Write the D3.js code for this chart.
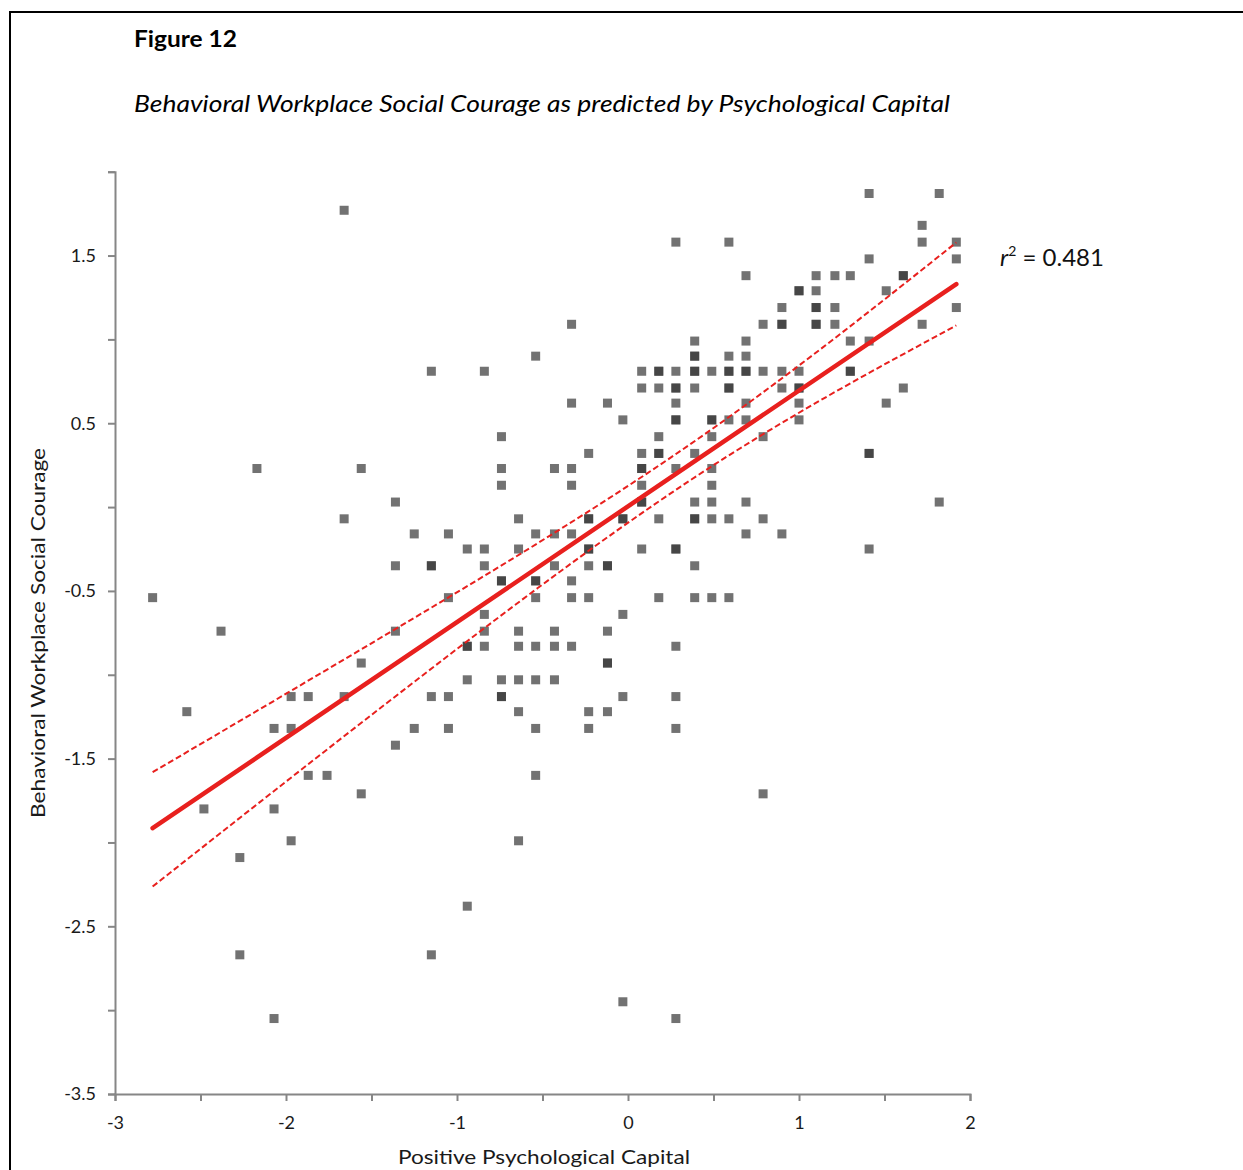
<!DOCTYPE html>
<html>
<head>
<meta charset="utf-8">
<script src="https://cdn.jsdelivr.net/npm/d3@7/dist/d3.min.js"></script>
<style>
  html, body { margin: 0; padding: 0; background: #fff; }
  svg { display: block; }
</style>
</head>
<body>
<svg id="chart" width="1243" height="1170"></svg>
<script>
// Observations: Positive Psychological Capital (x) vs Behavioral Workplace Social Courage (y)
const psyCap = [
  -1.66,-2.17,-1.56,
  0.28,-0.33,-0.54,-1.15,-0.84,0.08,0.18,0.18,0.28,0.08,0.18,0.28,0.28,-0.33,-0.12,0.28,-0.03,0.28,0.28,
  -0.74,0.18,-0.23,0.08,0.18,0.18,-0.74,-0.43,-0.33,0.08,0.08,0.28,
  1.41,1.82,1.72,0.59,1.72,1.92,1.41,1.92,0.69,1.10,1.21,1.30,1.61,1.61,1.00,1.00,1.10,1.51,
  0.90,1.10,1.10,1.21,1.92,0.79,0.90,0.90,1.10,1.10,1.21,1.72,0.39,0.69,1.30,1.41,
  0.39,0.39,0.59,0.69,0.39,0.39,0.49,0.59,0.59,0.69,0.69,0.79,0.90,1.00,1.30,1.30,
  0.39,0.59,0.59,0.90,1.00,1.00,1.61,0.69,1.00,1.51,0.49,0.49,0.59,0.69,1.00,0.49,0.79,
  0.39,1.41,1.41,0.49,
  -1.36,-1.66,-1.36,-2.78,-2.38,-1.36,-1.56,-1.97,-1.87,-1.66,-2.58,-2.07,-1.97,-1.36,-1.87,-1.76,
  -0.74,-0.33,0.08,0.08,0.08,-0.64,-0.23,-0.23,-0.03,-0.03,0.18,
  -1.25,-1.05,-0.54,-0.43,-0.33,-0.94,-0.84,-0.64,-0.23,-0.23,0.08,0.28,0.28,
  -1.15,-1.15,-0.84,-0.43,-0.23,-0.12,-0.12,-0.74,-0.74,-0.54,-0.54,-0.33,
  -1.05,-0.54,-0.33,-0.23,0.18,-0.84,-0.03,-0.84,-0.64,-0.43,-0.12,
  -0.94,-0.94,-0.84,-0.64,-0.54,-0.43,-0.33,0.28,-0.12,-0.12,
  -0.94,-0.74,-0.64,-0.54,-0.43,-1.15,-1.05,-0.74,-0.74,-0.03,0.28,
  -0.64,-0.23,-0.12,-1.25,-1.05,-0.54,-0.23,0.28,-0.54,
  0.49,0.39,0.49,0.69,1.82,0.39,0.39,0.49,0.59,0.79,0.69,0.90,1.41,0.39,0.39,0.49,0.59,
  -1.56,-2.48,-2.07,-1.97,-2.27,-2.27,-2.07,-0.64,-0.94,-1.15,-0.03,0.28,0.79
];
const courage = [
  1.77,0.23,0.23,
  1.58,1.09,0.90,0.81,0.81,0.81,0.81,0.81,0.81,0.71,0.71,0.71,0.71,0.62,0.62,0.62,0.52,0.52,0.52,
  0.42,0.42,0.32,0.32,0.32,0.32,0.23,0.23,0.23,0.23,0.23,0.23,
  1.87,1.87,1.68,1.58,1.58,1.58,1.48,1.48,1.38,1.38,1.38,1.38,1.38,1.38,1.29,1.29,1.29,1.29,
  1.19,1.19,1.19,1.19,1.19,1.09,1.09,1.09,1.09,1.09,1.09,1.09,0.99,0.99,0.99,0.99,
  0.90,0.90,0.90,0.90,0.81,0.81,0.81,0.81,0.81,0.81,0.81,0.81,0.81,0.81,0.81,0.81,
  0.71,0.71,0.71,0.71,0.71,0.71,0.71,0.62,0.62,0.62,0.52,0.52,0.52,0.52,0.52,0.42,0.42,
  0.32,0.32,0.32,0.23,
  0.03,-0.07,-0.35,-0.54,-0.74,-0.74,-0.93,-1.13,-1.13,-1.13,-1.22,-1.32,-1.32,-1.42,-1.60,-1.60,
  0.13,0.13,0.13,0.03,0.03,-0.07,-0.07,-0.07,-0.07,-0.07,-0.07,
  -0.16,-0.16,-0.16,-0.16,-0.16,-0.25,-0.25,-0.25,-0.25,-0.25,-0.25,-0.25,-0.25,
  -0.35,-0.35,-0.35,-0.35,-0.35,-0.35,-0.35,-0.44,-0.44,-0.44,-0.44,-0.44,
  -0.54,-0.54,-0.54,-0.54,-0.54,-0.64,-0.64,-0.74,-0.74,-0.74,-0.74,
  -0.83,-0.83,-0.83,-0.83,-0.83,-0.83,-0.83,-0.83,-0.93,-0.93,
  -1.03,-1.03,-1.03,-1.03,-1.03,-1.13,-1.13,-1.13,-1.13,-1.13,-1.13,
  -1.22,-1.22,-1.22,-1.32,-1.32,-1.32,-1.32,-1.32,-1.60,
  0.13,0.03,0.03,0.03,0.03,-0.07,-0.07,-0.07,-0.07,-0.07,-0.16,-0.16,-0.25,-0.35,-0.54,-0.54,-0.54,
  -1.71,-1.80,-1.80,-1.99,-2.09,-2.67,-3.05,-1.99,-2.38,-2.67,-2.95,-3.05,-1.71
];

// Fitted regression line (end points) and its confidence band
const fitX = [-2.78, 1.92];
const fitY = [-1.915, 1.33];
const bandX = [-2.78, -1.335, 0.36, 1.92];
const bandUpper = [-1.581, -0.712, 0.372, 1.578];
const bandLower = [-2.263, -1.109, 0.157, 1.083];

const rSquared = "0.481";
const xTickLabels = ["-3", "-2", "-1", "0", "1", "2"];
const yTickLabels = ["-3.5", "-2.5", "-1.5", "-0.5", "0.5", "1.5"];

const FONT = "Lato, 'Open Sans', sans-serif";
const svg = d3.select("#chart");

// figure frame (top and left edges)
svg.append("path")
  .attr("d", "M10,1172 V12 H1245")
  .attr("fill", "none").attr("stroke", "#000").attr("stroke-width", 2);

svg.append("text")
  .attr("x", 134).attr("y", 47)
  .attr("font-family", FONT).attr("font-weight", 700).attr("font-size", 22)
  .attr("textLength", 103).attr("lengthAdjust", "spacingAndGlyphs")
  .text("Figure 12");

svg.append("text")
  .attr("x", 134).attr("y", 112)
  .attr("font-family", FONT).attr("font-style", "italic").attr("font-size", 23)
  .attr("textLength", 816).attr("lengthAdjust", "spacingAndGlyphs")
  .text("Behavioral Workplace Social Courage as predicted by Psychological Capital");

const x = d3.scaleLinear().domain([-3, 2]).range([115, 970]);
const y = d3.scaleLinear().domain([-3.5, 2]).range([1094, 171.7]);

const axisColor = "#868686";

// y axis: ticks every 0.5, labels on the odd halves
const yTicks = d3.range(-3.5, 2.01, 0.5);
const yAxis = d3.axisLeft(y).tickValues(yTicks).tickSize(7).tickPadding(12)
  .tickFormat(d => {
    const s = d.toFixed(1);
    return yTickLabels.includes(s) ? s : "";
  });
const gy = svg.append("g").attr("transform", `translate(${x(-3)},0)`).call(yAxis);
gy.select(".domain").attr("stroke", axisColor).attr("stroke-width", 2);
gy.selectAll(".tick line").attr("stroke", axisColor).attr("stroke-width", 2);
gy.selectAll(".tick text").attr("font-family", FONT).attr("font-size", 18).attr("fill", "#1a1a1a");

// x axis: ticks every 0.5, labels on integers
const xTicks = d3.range(-3, 2.01, 0.5);
const xAxis = d3.axisBottom(x).tickValues(xTicks).tickSize(7).tickPadding(15)
  .tickFormat(d => {
    const s = String(d);
    return xTickLabels.includes(s) ? s : "";
  });
const gx = svg.append("g").attr("transform", `translate(0,${y(-3.5)})`).call(xAxis);
gx.select(".domain").attr("stroke", axisColor).attr("stroke-width", 2);
gx.selectAll(".tick line").attr("stroke", axisColor).attr("stroke-width", 2);
gx.selectAll(".tick text").attr("font-family", FONT).attr("font-size", 18).attr("fill", "#1a1a1a");

// axis titles
svg.append("text")
  .attr("x", 544).attr("y", 1164).attr("text-anchor", "middle")
  .attr("font-family", FONT).attr("font-size", 20).attr("fill", "#1a1a1a")
  .attr("textLength", 292).attr("lengthAdjust", "spacingAndGlyphs")
  .text("Positive Psychological Capital");

svg.append("text")
  .attr("transform", "translate(45,633) rotate(-90)").attr("text-anchor", "middle")
  .attr("font-family", FONT).attr("font-size", 20).attr("fill", "#1a1a1a")
  .attr("textLength", 370).attr("lengthAdjust", "spacingAndGlyphs")
  .text("Behavioral Workplace Social Courage");

// observations
const points = psyCap.map((v, i) => ({ x: v, y: courage[i] }));
const S = 9;
svg.append("g").selectAll("rect").data(points).join("rect")
  .attr("x", d => x(d.x) - S / 2).attr("y", d => y(d.y) - S / 2)
  .attr("width", S).attr("height", S)
  .attr("fill", "#333").attr("fill-opacity", 0.69);

// confidence band
const bandLine = d3.line().x(d => x(d[0])).y(d => y(d[1])).curve(d3.curveNatural);
[bandUpper, bandLower].forEach(arr => {
  svg.append("path")
    .attr("d", bandLine(bandX.map((v, i) => [v, arr[i]])))
    .attr("fill", "none").attr("stroke", "#e8201e").attr("stroke-width", 2)
    .attr("stroke-dasharray", "6,3");
});

// regression line
svg.append("path")
  .attr("d", d3.line().x(d => x(d[0])).y(d => y(d[1]))(fitX.map((v, i) => [v, fitY[i]])))
  .attr("fill", "none").attr("stroke", "#e8201e").attr("stroke-width", 4.5)
  .attr("stroke-linecap", "round");

// r-squared annotation
const rt = svg.append("text")
  .attr("x", 1000).attr("y", 266)
  .attr("font-family", FONT).attr("font-size", 24).attr("fill", "#111");
rt.append("tspan").attr("font-style", "italic").text("r");
rt.append("tspan").attr("font-size", 14).attr("dy", -10).text("2");
rt.append("tspan").attr("dy", 10).text(" = " + rSquared);
</script>
</body>
</html>
